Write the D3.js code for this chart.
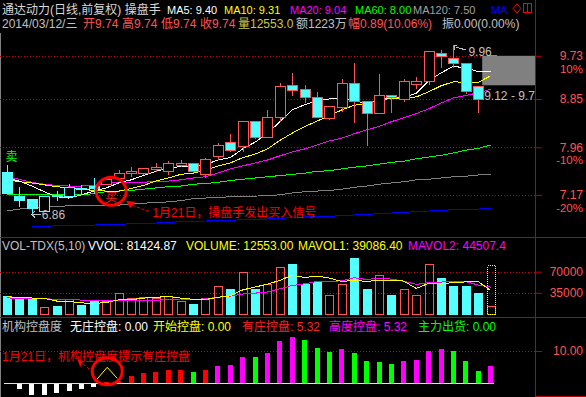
<!DOCTYPE html>
<html>
<head>
<meta charset="utf-8">
<script src="https://cdn.jsdelivr.net/npm/d3@7"></script>
<style>
html, body { margin: 0; padding: 0; background: #000; }
svg { display: block; }
</style>
</head>
<body>
<div id="chart"></div>
<script>
// ---- data ----
const stockName = "通达动力(日线,前复权) 操盘手"
const lastDate = "2014/03/12/三"

const opens  = [7.54,7.15,7.11,6.92,7.17,7.15,7.28,7.31,7.34,7.44, 7.52,7.52,7.59,7.56,7.66,7.69,7.51,7.81,8.05,7.98,
                8.43,8.14,8.51,9.13,9.05,8.89,8.49,8.70,9.17,8.81, 8.58,8.93,8.85,9.15,9.21,9.79,9.68,9.58,9.11,9.74]
const highs  = [7.66,7.30,7.11,7.15,7.23,7.34,7.33,7.44,7.46,7.57, 7.62,7.61,7.69,7.72,7.74,7.69,7.78,8.04,8.20,8.43,
                8.43,8.64,9.17,9.37,9.13,8.99,8.72,9.25,9.58,8.81, 9.35,8.93,9.25,9.29,9.83,9.86,9.96,9.58,9.11,9.74]
const lows   = [7.19,6.98,6.86,6.92,7.07,7.15,7.18,7.18,7.34,7.44, 7.46,7.49,7.54,7.49,7.62,7.52,7.44,7.74,7.88,7.88,
                8.11,8.14,8.41,8.91,8.77,8.51,8.45,8.60,8.40,7.98, 8.58,8.58,8.79,9.05,9.13,9.47,9.47,8.95,8.58,9.74]
const closes = [7.20,7.09,6.97,7.15,7.15,7.30,7.26,7.28,7.42,7.52, 7.56,7.61,7.62,7.69,7.69,7.56,7.76,8.00,7.91,8.43,
                8.14,8.51,9.11,9.03,8.89,8.51,8.72,9.17,8.81,8.58, 8.93,8.89,9.21,9.21,9.83,9.73,9.58,9.01,8.85,9.74]

const ma5   = [7.44,7.39,7.31,7.22,7.14,7.12,7.17,7.23,7.28,7.36, 7.41,7.48,7.55,7.60,7.63,7.63,7.66,7.74,7.78,7.93,
               8.05,8.20,8.42,8.64,8.74,8.81,8.85,8.86,8.82,8.76, 8.84,8.88,8.88,8.96,9.21,9.37,9.51,9.47,9.40,9.40]
const ma10  = [7.41,7.38,7.36,7.33,7.30,7.28,7.26,7.24,7.23,7.23, 7.27,7.32,7.39,7.44,7.50,7.52,7.57,7.64,7.69,7.78,
               7.84,7.93,8.08,8.21,8.33,8.43,8.53,8.64,8.73,8.75, 8.83,8.86,8.87,8.89,8.99,9.11,9.19,9.18,9.18,9.31]
const ma20  = [7.46,7.42,7.37,7.34,7.32,7.31,7.31,7.32,7.36,7.36, 7.37,7.37,7.39,7.39,7.41,7.44,7.46,7.52,7.59,7.64,
               7.69,7.74,7.81,7.88,7.93,8.00,8.07,8.12,8.20,8.27, 8.33,8.42,8.49,8.57,8.66,8.77,8.87,8.92,8.97,9.04]
const ma60  = [7.17,7.17,7.17,7.17,7.17,7.17,7.17,7.19,7.22,7.23, 7.24,7.26,7.28,7.30,7.31,7.34,7.35,7.37,7.40,7.42,
               7.44,7.46,7.48,7.50,7.52,7.55,7.56,7.59,7.62,7.64, 7.67,7.70,7.72,7.76,7.79,7.82,7.86,7.91,7.94,8.00]
const ma120 = [6.92,6.95,6.97,6.98,6.99,7.00,7.00,7.00,7.00,7.01, 7.03,7.04,7.05,7.06,7.08,7.11,7.12,7.13,7.14,7.15,
               7.15,7.16,7.17,7.20,7.22,7.23,7.24,7.26,7.29,7.31, 7.34,7.36,7.38,7.41,7.42,7.44,7.46,7.47,7.49,7.50]
const maLong = [null,null,6.69,6.69,6.70,6.70,6.71,6.71,6.72,6.72, 6.73,6.74,6.74,6.75,6.76,6.76,6.77,6.78,6.78,6.79,
                6.80,6.80,6.81,6.82,6.83,6.83,6.84,6.85,6.86,6.87, 6.88,6.89,6.90,6.91,6.92,6.93,6.94,6.94,6.95,6.96]

const maNames = ["MA5", "MA10", "MA20", "MA60", "MA120"]
const maLast = [9.40, 9.31, 9.04, 8.00, 7.50]

const volumes = [29200,26500,26500,11700,13400,25300,15100,20700,20700,35000, 26500,28700,26500,29200,20700,16300,26500,45700,40600,70000,
                 40600,49100,78000,83400,50300,53000,32100,50300,93300,40600, 64400,32100,41800,32100,83100,58800,45700,45700,34300,12553]
const mavol1 = [28700,27000,26500,25800,21460,20680,18400,17240,19040,23360, 23600,26320,27480,29180,26320,24280,23840,27680,29960,39820,
                44680,49200,55660,64220,60280,62760,59360,53820,55800,53860, 56140,56140,54440,42200,50700,49580,52300,53080,53520,39086.4]
const mavol2 = [26500,26400,26000,25500,24000,23500,23100,22800,22600,22410, 22140,22360,22360,24110,24840,23940,25080,27580,29570,33070,
                34480,36520,41670,47090,50050,53720,54280,54740,60010,57070, 59450,57750,54130,49000,52280,52860,54220,53760,47860,44507.4]
const vvol = 81424.87

// 机构控盘度 bars and their state (w 无庄, r 有庄, m 高度, g 出货)
const ctrl = [0,-1.8,-3.6,-3.6,-3.1,-2.4,-1.8,-1.0,0.3,0.6, 2.25,3.3,3.6,4.2,4.2,3.6,4.2,5.4,5.8,8.2,
              8.1,9.5,13.2,14.4,13.5,11.0,9.8,10.6,9.5,7.0, 6.7,6.1,7.0,7.3,10.0,10.7,10.0,7.0,3.9,5.32]
const ctrlState = ["w","w","w","w","w","w","w","w","r","r", "r","r","r","r","r","g","r","m","m","m",
                   "g","m","m","m","g","g","g","m","g","g", "g","g","m","m","m","m","g","g","g","m"]

const priceTicks = [9.73, 8.85, 7.96, 7.17]
const pctLabels = ["10%", "", "-10%", "-20%"]
const volTicks = [70000, 35000]
const ctrlTicks = [10]
const zoneRange = [9.12, 9.73]
const sellIndex = 0
const buyIndex = 8

// ---- layout ----
const W = 586, H = 397
const plotRight = 535
const n = closes.length
const FONT = '"Liberation Sans","Noto Sans CJK SC",sans-serif'
const RED = "#D00000", FRAME = "#C00000", PINK = "#FF5555", CYAN = "#54FFFF", LABEL = "#FF5454", GREY = "#C0C0C0"

const x = d3.scaleBand().domain(d3.range(n)).range([0.8, 496.8])
const cx = i => x(i) + x.bandwidth() / 2
const y = d3.scaleLog().domain([6.6, 10.1]).range([232.6, 38.8])
const yv = d3.scaleLinear().domain([0, 70000]).range([314, 271.7])
const yc = d3.scaleLinear().domain([0, 10]).range([383.3, 351])
const px = v => Math.round(v) + 0.5

const svg = d3.select("#chart").append("svg")
   .attr("width", W).attr("height", H)
   .attr("font-family", FONT).attr("font-size", 12)

svg.append("rect").attr("width", W).attr("height", H).attr("fill", "#000")
const defs = svg.append("defs")
defs.append("clipPath").attr("id", "plotClip")
   .append("rect").attr("x", 0).attr("y", 0).attr("width", plotRight).attr("height", H)

// frame
const frame = svg.append("g").attr("shape-rendering", "crispEdges")
frame.append("line").attr("x1", 0.5).attr("x2", 0.5).attr("y1", 33).attr("y2", H).attr("stroke", "#808080")
frame.append("line").attr("x1", plotRight + 0.5).attr("x2", plotRight + 0.5).attr("y1", 0).attr("y2", H).attr("stroke", FRAME)
frame.selectAll("line.sep").data([237.5, 317.5]).join("line").attr("class", "sep")
   .attr("x1", 0).attr("x2", W).attr("y1", d => d).attr("y2", d => d).attr("stroke", FRAME)
frame.append("line").attr("x1", plotRight).attr("x2", W).attr("y1", 396.5).attr("y2", 396.5).attr("stroke", FRAME)

// dotted grid
const grid = svg.append("g").attr("shape-rendering", "crispEdges")
   .attr("stroke", RED).attr("stroke-dasharray", "1,2")
grid.selectAll("line.p").data(priceTicks).join("line").attr("class", "p")
   .attr("x1", 0).attr("x2", plotRight).attr("y1", d => px(y(d))).attr("y2", d => px(y(d)))
grid.selectAll("line.v").data(volTicks).join("line").attr("class", "v")
   .attr("x1", 0).attr("x2", plotRight).attr("y1", d => px(yv(d))).attr("y2", d => px(yv(d)))
grid.selectAll("line.c").data(ctrlTicks).join("line").attr("class", "c")
   .attr("x1", 0).attr("x2", plotRight).attr("y1", d => px(yc(d))).attr("y2", d => px(yc(d)))

// grey price zone at the right end
svg.append("rect")
   .attr("x", cx(n - 2) + 4).attr("y", y(zoneRange[1]))
   .attr("width", plotRight - cx(n - 2) - 4).attr("height", y(zoneRange[0]) - y(zoneRange[1]))
   .attr("fill", "#808080")
svg.append("text").attr("clip-path", "url(#plotClip)")
   .attr("x", cx(n - 2) + 6).attr("y", y(zoneRange[0]) + 15)
   .attr("fill", GREY).text(`${zoneRange[0].toFixed(2)} - ${zoneRange[1].toFixed(2)}`)

// moving averages
const line = d3.line().defined(d => d != null).x((d, i) => cx(i)).y(d => y(d))
const maSeries = [maLong, ma120, ma60, ma20, ma10, ma5]
const maColors = ["#0000FF", "#808080", "#00FF00", "#FF00FF", "#FFFF00", "#FFFFFF"]
svg.append("g").attr("fill", "none").attr("shape-rendering", "crispEdges")
   .selectAll("path").data(maSeries).join("path")
   .attr("stroke", (d, i) => maColors[i])
   .attr("d", d => line(d))

// candles
const candles = d3.range(n).map(i => ({ i, o: opens[i], h: highs[i], l: lows[i], c: closes[i] }))
svg.append("g").attr("shape-rendering", "crispEdges")
   .selectAll("g").data(candles).join("g")
   .each(function (d) {
      const g = d3.select(this)
      const up = d.c >= d.o
      const col = d.i < buyIndex ? CYAN : PINK
      const xc = px(cx(d.i))
      const top = Math.round(y(Math.max(d.o, d.c)))
      const bot = Math.round(y(Math.min(d.o, d.c)))
      g.append("line").attr("x1", xc).attr("x2", xc).attr("y1", y(d.h)).attr("y2", top).attr("stroke", col)
      g.append("line").attr("x1", xc).attr("x2", xc).attr("y1", bot).attr("y2", y(d.l)).attr("stroke", col)
      if (bot - top < 1) {
         g.append("line").attr("x1", xc - 5).attr("x2", xc + 5)
            .attr("y1", top + 0.5).attr("y2", top + 0.5).attr("stroke", up ? PINK : col)
      } else {
         g.append("rect").attr("x", Math.round(cx(d.i) - 5) + 0.5).attr("y", top + 0.5)
            .attr("width", 10).attr("height", bot - top)
            .attr("fill", up ? "#000" : CYAN).attr("stroke", col)
      }
   })

// sell / buy signals
svg.append("text").attr("x", cx(sellIndex) + 4.5).attr("y", y(highs[sellIndex]) - 4)
   .attr("text-anchor", "middle").attr("fill", "#00FF00").text("卖")
const bcx = cx(buyIndex) + 5, bcy = y(lows[buyIndex]) + 7
svg.append("text").attr("x", bcx).attr("y", bcy + 10.5)
   .attr("text-anchor", "middle").attr("fill", "#FF2020").text("买")
svg.append("ellipse").attr("cx", bcx).attr("cy", bcy).attr("rx", 15).attr("ry", 14)
   .attr("fill", "none").attr("stroke", "#FF0000").attr("stroke-width", 3)
svg.append("path").attr("d", `M${bcx + 15},${bcy + 9.5}L${bcx + 24},${bcy + 10.5}L${bcx + 19},${bcy + 17}Z`).attr("fill", "#FF0000")
svg.append("line").attr("x1", bcx + 21).attr("y1", bcy + 14).attr("x2", bcx + 40).attr("y2", bcy + 21)
   .attr("stroke", "#FF0000").attr("stroke-dasharray", "3,2")
svg.append("text").attr("x", bcx + 41).attr("y", bcy + 26).attr("fill", "#FF0000").text("1月21日，操盘手发出买入信号")

// high / low markers
const hi = d3.maxIndex(highs), lo = d3.minIndex(lows)
const mk = svg.append("g").attr("stroke", GREY).attr("fill", "none").attr("shape-rendering", "crispEdges")
mk.append("path").attr("d", `M${px(cx(hi)) + 1},${y(highs[hi]) + 5}V${y(highs[hi])}H${cx(hi) + 4}`)
mk.append("line").attr("x1", cx(hi) + 3).attr("y1", y(highs[hi]) + 2).attr("x2", cx(hi) + 13).attr("y2", y(highs[hi]) + 5)
svg.append("text").attr("x", cx(hi) + 15).attr("y", y(highs[hi]) + 11).attr("fill", GREY).text(highs[hi].toFixed(2))
const ly = Math.round(y(lows[lo])) - 0.5
mk.append("path").attr("d", `M${cx(lo) + 3},${ly - 3}L${cx(lo)},${ly}L${cx(lo) + 3},${ly + 3}M${cx(lo)},${ly}H${cx(lo) + 9}`)
svg.append("text").attr("x", cx(lo) + 10).attr("y", ly + 4).attr("fill", GREY).text(lows[lo].toFixed(2))

// right price axis
svg.append("g").attr("transform", `translate(${plotRight},0)`)
   .call(d3.axisRight(y).tickValues(priceTicks).tickSize(7).tickFormat(d3.format(".2f")))
   .call(g => g.select(".domain").remove())
   .call(g => g.selectAll("line").attr("stroke", FRAME))
   .call(g => g.selectAll("text").attr("x", 48).attr("text-anchor", "end").attr("fill", LABEL))
   .attr("font-family", FONT).attr("font-size", 12)
svg.append("g").attr("font-size", 11.5).selectAll("text").data(priceTicks).join("text")
   .attr("x", 583).attr("y", d => y(d) + 17).attr("text-anchor", "end")
   .attr("fill", LABEL).text((d, i) => pctLabels[i])

// header
const hdr = svg.append("g").attr("clip-path", "url(#plotClip)")
hdr.append("text").attr("x", 2).attr("y", 14).attr("fill", "#D8D8D8").text(stockName)
const row1 = maNames.map((m, i) => `${m}: ${maLast[i].toFixed(2)}`).concat(["MA"])
const row1X = [167, 224, 290, 355, 413, 491]
const row1C = ["#FFFFFF", "#FFFF00", "#FF00FF", "#00FF00", "#A0A0A0", "#0000FF"]
hdr.append("g").attr("font-size", 11).selectAll("text").data(row1).join("text")
   .attr("x", (d, i) => row1X[i]).attr("y", 14).attr("fill", (d, i) => row1C[i]).text(d => d)
hdr.append("path").attr("d", "M517,4L521,8.5L517,13L513,8.5Z").attr("fill", "none").attr("stroke", "#FF0000")
hdr.append("rect").attr("x", 523.5).attr("y", 3.5).attr("width", 8).attr("height", 9).attr("fill", "none").attr("stroke", "#FF0000")
hdr.append("line").attr("x1", 527.5).attr("x2", 527.5).attr("y1", 3.5).attr("y2", 12.5).attr("stroke", "#FF0000")

const quoteNames = ["开", "高", "低", "收"]
const quoteValues = [9.74, 9.74, 9.74, 9.74]
const row2 = [lastDate].concat(quoteNames.map((q, i) => q + quoteValues[i].toFixed(2)))
   .concat(["量12553.0", "额1223万", "幅0.89(10.06%)", "振0.00(0.00%)"])
const row2X = [2, 83, 122, 161, 200, 238, 296, 348, 442]
const row2C = [GREY, PINK, PINK, PINK, PINK, "#C8C850", GREY, PINK, GREY]
hdr.selectAll("text.r2").data(row2).join("text").attr("class", "r2")
   .attr("x", (d, i) => row2X[i]).attr("y", 28).attr("fill", (d, i) => row2C[i]).text(d => d)

// ---- volume panel ----
const vg = svg.append("g").attr("shape-rendering", "crispEdges")
vg.selectAll("rect").data(volumes).join("rect")
   .attr("x", (d, i) => Math.round(cx(i) - 4) + 0.5)
   .attr("y", d => px(yv(d)))
   .attr("width", 8)
   .attr("height", d => Math.round(yv(0)) - Math.round(yv(d)))
   .attr("fill", (d, i) => closes[i] >= opens[i] ? "none" : CYAN)
   .attr("stroke", (d, i) => closes[i] >= opens[i] ? PINK : CYAN)
vg.append("rect")
   .attr("x", Math.round(cx(n - 1) - 4) + 0.5).attr("y", px(yv(vvol)))
   .attr("width", 8).attr("height", Math.round(yv(0)) - Math.round(yv(vvol)))
   .attr("fill", "none").attr("stroke", "#FFFF00").attr("stroke-dasharray", "1,1")
const vline = d3.line().x((d, i) => cx(i)).y(d => yv(d))
svg.append("g").attr("fill", "none").attr("shape-rendering", "crispEdges")
   .selectAll("path").data([mavol2, mavol1]).join("path")
   .attr("stroke", (d, i) => ["#FF00FF", "#FFFF00"][i]).attr("d", d => vline(d))

svg.append("g").attr("transform", `translate(${plotRight},0)`)
   .call(d3.axisRight(yv).tickValues(volTicks).tickSize(7).tickFormat(d3.format("d")))
   .call(g => g.select(".domain").remove())
   .call(g => g.selectAll("line").attr("stroke", FRAME))
   .call(g => g.selectAll("text").attr("x", 48).attr("text-anchor", "end").attr("fill", LABEL))
   .attr("font-family", FONT).attr("font-size", 12)

const volTitle = ["VOL-TDX(5,10)", `VVOL: ${vvol.toFixed(2)}`, `VOLUME: ${volumes[n - 1].toFixed(2)}`,
   `MAVOL1: ${mavol1[n - 1].toFixed(2)}`, `MAVOL2: ${mavol2[n - 1].toFixed(1)}`]
const volTitleX = [2, 88, 186, 298, 408]
const volTitleC = [GREY, "#FFFFFF", "#FFFF00", "#FFFF00", "#FF00FF"]
svg.append("g").selectAll("text").data(volTitle).join("text")
   .attr("x", (d, i) => volTitleX[i]).attr("y", 250).attr("fill", (d, i) => volTitleC[i]).text(d => d)

// ---- 机构控盘度 panel ----
const stateColor = { w: "#FFFFFF", r: "#FF0000", m: "#FF00FF", g: "#00FF00" }
svg.append("g").attr("shape-rendering", "crispEdges")
   .selectAll("rect").data(ctrl).join("rect")
   .attr("x", (d, i) => Math.round(cx(i) - 2.5))
   .attr("y", d => Math.round(yc(Math.max(d, 0))))
   .attr("width", 5)
   .attr("height", d => Math.abs(Math.round(yc(d)) - Math.round(yc(0))))
   .attr("fill", (d, i) => stateColor[ctrlState[i]])
svg.append("line").attr("shape-rendering", "crispEdges")
   .attr("x1", cx(0) - 3).attr("x2", cx(n - 1) + 3)
   .attr("y1", px(yc(0))).attr("y2", px(yc(0))).attr("stroke", "#FFFF00")

svg.append("g").attr("transform", `translate(${plotRight},0)`)
   .call(d3.axisRight(yc).tickValues(ctrlTicks).tickSize(7).tickFormat(d3.format(".2f")))
   .call(g => g.select(".domain").remove())
   .call(g => g.selectAll("line").attr("stroke", FRAME))
   .call(g => g.selectAll("text").attr("x", 48).attr("text-anchor", "end").attr("fill", LABEL))
   .attr("font-family", FONT).attr("font-size", 12)

const ctrlTitle = ["机构控盘度", "无庄控盘: 0.00", "开始控盘: 0.00", `有庄控盘: ${ctrl[n - 1].toFixed(2)}`,
   `高度控盘: ${ctrl[n - 1].toFixed(2)}`, "主力出货: 0.00"]
const ctrlTitleX = [2, 70, 153, 242, 329, 418]
const ctrlTitleC = [GREY, "#FFFFFF", "#FFFF00", "#FF2020", "#FF00FF", "#00FF00"]
svg.append("g").selectAll("text").data(ctrlTitle).join("text")
   .attr("x", (d, i) => ctrlTitleX[i]).attr("y", 331).attr("fill", (d, i) => ctrlTitleC[i]).text(d => d)

// annotation on the control panel
const ccx = cx(buyIndex) + 1, ccy = yc(0) - 12
svg.append("path").attr("fill", "none").attr("stroke", "#FFFF00")
   .attr("d", `M${ccx - 12},${ccy + 10}L${ccx},${ccy - 4}L${ccx + 10},${ccy + 7}`)
svg.append("rect").attr("x", ccx - 3).attr("y", Math.round(yc(0)) - 1).attr("width", 5).attr("height", 1).attr("fill", "#FF0000")
svg.append("ellipse").attr("cx", ccx).attr("cy", ccy).attr("rx", 15).attr("ry", 13.5)
   .attr("fill", "none").attr("stroke", "#FF0000").attr("stroke-width", 3)
svg.append("line").attr("x1", ccx - 14).attr("y1", ccy + 1).attr("x2", ccx - 25).attr("y2", ccy - 8)
   .attr("stroke", "#FF0000").attr("stroke-dasharray", "3,2")
svg.append("path").attr("d", `M${ccx - 30},${ccy - 12.5}L${ccx - 24},${ccy - 10}L${ccx - 27},${ccy - 4}Z`).attr("fill", "#FF0000")
svg.append("text").attr("x", 2).attr("y", 361).attr("fill", "#FF0000").text("1月21日，机构控盘度提示有庄控盘")
</script>
</body>
</html>
